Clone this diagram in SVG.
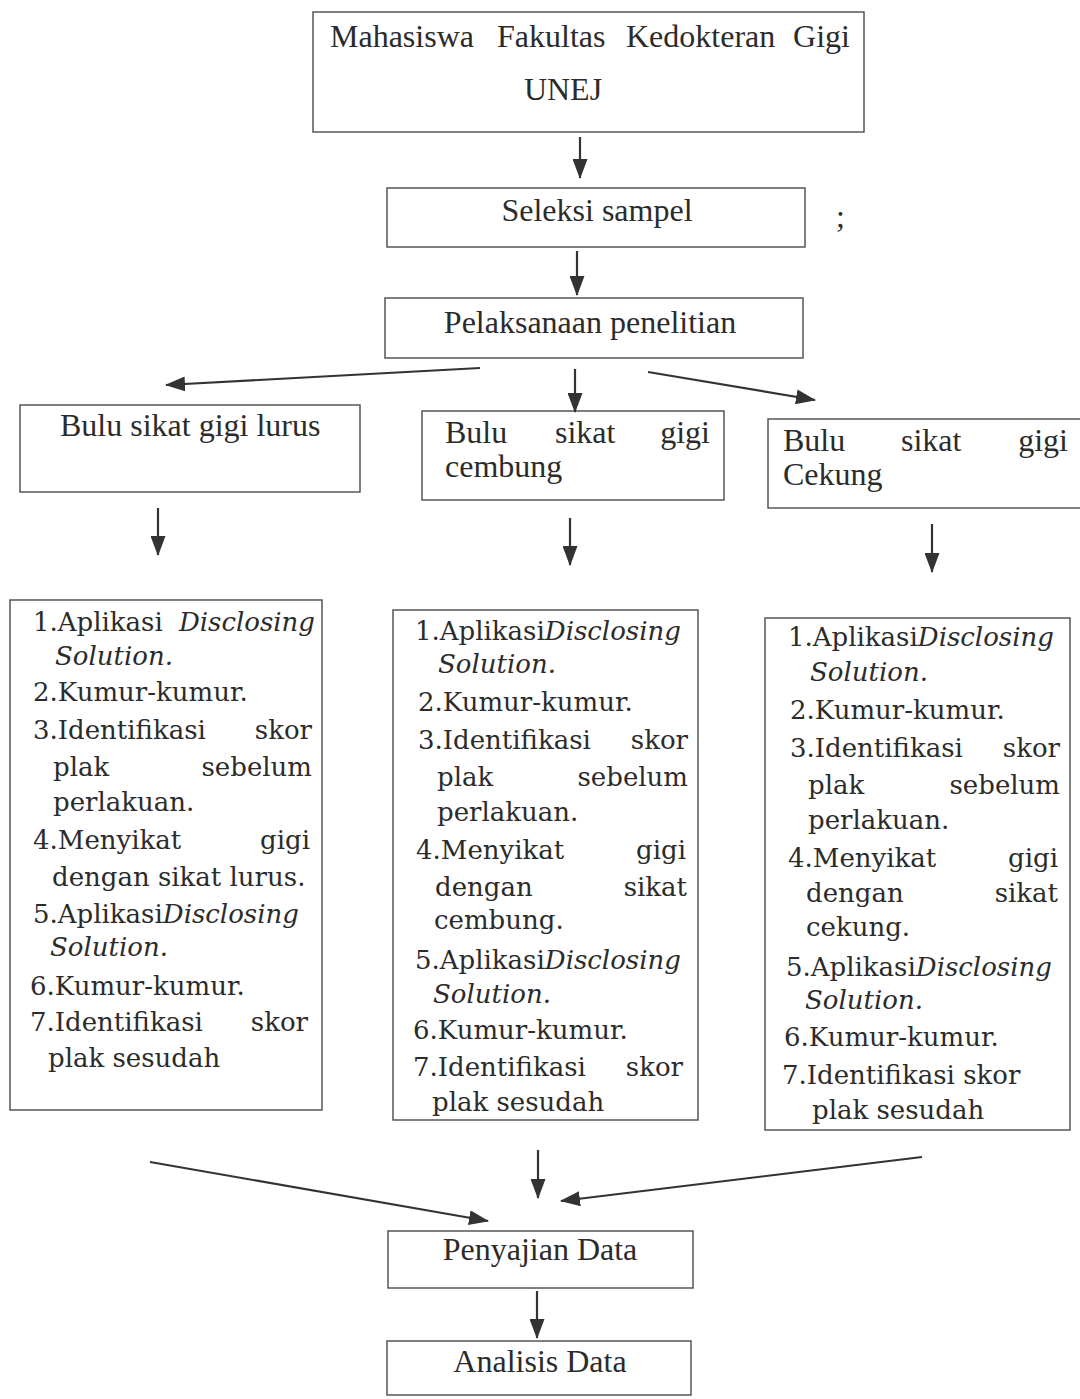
<svg xmlns="http://www.w3.org/2000/svg" width="1080" height="1399" viewBox="0 0 1080 1399">
<style>
.box{fill:none;stroke:#4a4a4a;stroke-width:1.4}
.h{font-family:"Liberation Serif",serif;font-size:32px;fill:#2b2b2b}
.l{font-family:"DejaVu Serif",serif;font-size:26px;fill:#2b2b2b}
.i{font-style:italic}
.e{text-anchor:end}
.c{text-anchor:middle}
.con line{stroke:#333;stroke-width:2.2;marker-end:url(#ah)}
</style>
<defs>
<marker id="ah" markerUnits="userSpaceOnUse" markerWidth="20" markerHeight="15" refX="19" refY="7.5" orient="auto" viewBox="0 0 20 15">
<path d="M0,0 L20,7.5 L0,15 Z" fill="#333"/>
</marker>
</defs>
<rect width="1080" height="1399" fill="#ffffff"/>

<g id="n-mahasiswa">
<rect class="box" x="313" y="12" width="551" height="120"/>
<text class="h" y="47"><tspan x="330">Mahasiswa</tspan><tspan x="497">Fakultas</tspan><tspan x="626">Kedokteran</tspan><tspan x="850" text-anchor="end">Gigi</tspan></text>
<text class="h c" x="563" y="100">UNEJ</text>
</g>

<g id="n-seleksi">
<rect class="box" x="387" y="188" width="418" height="59"/>
<text class="h c" x="597" y="221">Seleksi sampel</text>
<text class="h" x="836" y="227" font-size="18" fill="#777">;</text>
</g>

<g id="n-pelaksanaan">
<rect class="box" x="385" y="298" width="418" height="60"/>
<text class="h c" x="590" y="333">Pelaksanaan penelitian</text>
</g>

<g id="n-lurus">
<rect class="box" x="20" y="405" width="340" height="87"/>
<text class="h" x="60" y="436">Bulu sikat gigi lurus</text>
</g>

<g id="n-cembung">
<rect class="box" x="422" y="411" width="302" height="89"/>
<text class="h" y="443"><tspan x="445">Bulu</tspan><tspan x="555">sikat</tspan><tspan x="710" text-anchor="end">gigi</tspan></text>
<text class="h" x="445" y="477">cembung</text>
</g>

<g id="n-cekung">
<rect class="box" x="768" y="419" width="330" height="89"/>
<text class="h" y="451"><tspan x="783">Bulu</tspan><tspan x="901">sikat</tspan><tspan x="1068" text-anchor="end">gigi</tspan></text>
<text class="h" x="783" y="485">Cekung</text>
</g>

<g id="n-langkah-lurus">
<rect class="box" x="10" y="600" width="312" height="510"/>
<text class="l" x="33" y="631">1.Aplikasi</text><text class="l i e" x="315" y="631">Disclosing</text>
<text class="l i" x="55" y="665">Solution.</text>
<text class="l" x="33" y="701">2.Kumur-kumur.</text>
<text class="l" x="33" y="739">3.Identifikasi</text><text class="l e" x="312" y="739">skor</text>
<text class="l" x="53" y="776">plak</text><text class="l e" x="312" y="776">sebelum</text>
<text class="l" x="53" y="811">perlakuan.</text>
<text class="l" x="33" y="849">4.Menyikat</text><text class="l e" x="310" y="849">gigi</text>
<text class="l" x="52" y="886">dengan sikat lurus.</text>
<text class="l" x="33" y="923">5.Aplikasi<tspan class="i">Disclosing</tspan></text>
<text class="l i" x="50" y="956">Solution.</text>
<text class="l" x="30" y="995">6.Kumur-kumur.</text>
<text class="l" x="30" y="1031">7.Identifikasi</text><text class="l e" x="308" y="1031">skor</text>
<text class="l" x="48" y="1067">plak sesudah</text>
</g>

<g id="n-langkah-cembung">
<rect class="box" x="393" y="610" width="305" height="510"/>
<text class="l" x="415" y="640">1.Aplikasi<tspan class="i">Disclosing</tspan></text>
<text class="l i" x="438" y="673">Solution.</text>
<text class="l" x="418" y="711">2.Kumur-kumur.</text>
<text class="l" x="418" y="749">3.Identifikasi</text><text class="l e" x="688" y="749">skor</text>
<text class="l" x="437" y="786">plak</text><text class="l e" x="688" y="786">sebelum</text>
<text class="l" x="437" y="821">perlakuan.</text>
<text class="l" x="416" y="859">4.Menyikat</text><text class="l e" x="686" y="859">gigi</text>
<text class="l" x="435" y="896">dengan</text><text class="l e" x="687" y="896">sikat</text>
<text class="l" x="434" y="929">cembung.</text>
<text class="l" x="415" y="969">5.Aplikasi<tspan class="i">Disclosing</tspan></text>
<text class="l i" x="433" y="1003">Solution.</text>
<text class="l" x="413" y="1039">6.Kumur-kumur.</text>
<text class="l" x="413" y="1076">7.Identifikasi</text><text class="l e" x="683" y="1076">skor</text>
<text class="l" x="432" y="1111">plak sesudah</text>
</g>

<g id="n-langkah-cekung">
<rect class="box" x="765" y="618" width="305" height="512"/>
<text class="l" x="788" y="646">1.Aplikasi<tspan class="i">Disclosing</tspan></text>
<text class="l i" x="810" y="681">Solution.</text>
<text class="l" x="790" y="719">2.Kumur-kumur.</text>
<text class="l" x="790" y="757">3.Identifikasi</text><text class="l e" x="1060" y="757">skor</text>
<text class="l" x="808" y="794">plak</text><text class="l e" x="1060" y="794">sebelum</text>
<text class="l" x="808" y="829">perlakuan.</text>
<text class="l" x="788" y="867">4.Menyikat</text><text class="l e" x="1058" y="867">gigi</text>
<text class="l" x="806" y="902">dengan</text><text class="l e" x="1058" y="902">sikat</text>
<text class="l" x="806" y="936">cekung.</text>
<text class="l" x="786" y="976">5.Aplikasi<tspan class="i">Disclosing</tspan></text>
<text class="l i" x="805" y="1009">Solution.</text>
<text class="l" x="784" y="1046">6.Kumur-kumur.</text>
<text class="l" x="782" y="1084">7.Identifikasi skor</text>
<text class="l" x="812" y="1119">plak sesudah</text>
</g>

<g id="n-penyajian">
<rect class="box" x="388" y="1231" width="305" height="57"/>
<text class="h c" x="540" y="1260">Penyajian Data</text>
</g>

<g id="n-analisis">
<rect class="box" x="387" y="1341" width="304" height="54"/>
<text class="h c" x="540" y="1372">Analisis Data</text>
</g>

<g id="connectors" class="con">
<line x1="580" y1="137" x2="580" y2="178"/>
<line x1="577" y1="251" x2="577" y2="295"/>
<line x1="480" y1="368" x2="166" y2="385"/>
<line x1="575" y1="369" x2="575" y2="412"/>
<line x1="648" y1="372" x2="815" y2="400"/>
<line x1="158" y1="508" x2="158" y2="555"/>
<line x1="570" y1="518" x2="570" y2="565"/>
<line x1="932" y1="524" x2="932" y2="572"/>
<line x1="150" y1="1162" x2="488" y2="1221"/>
<line x1="538" y1="1150" x2="538" y2="1198"/>
<line x1="922" y1="1157" x2="561" y2="1201"/>
<line x1="537" y1="1291" x2="537" y2="1338"/>
</g>
</svg>
